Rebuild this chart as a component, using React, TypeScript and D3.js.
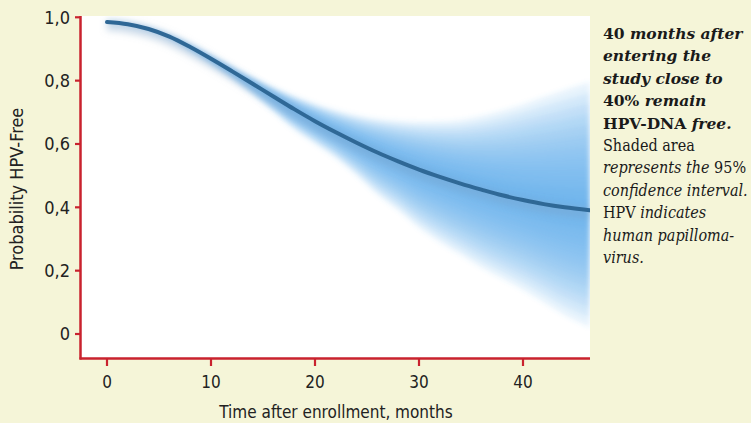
import React from "react";
import * as d3 from "d3";

const months = [0, 2, 4, 6, 8, 10, 12, 14, 16, 18, 20, 22, 24, 26, 28, 30, 32, 34, 36, 38, 40, 42, 44, 46.4];
const estimate = [0.985, 0.978, 0.963, 0.939, 0.906, 0.869, 0.83, 0.79, 0.75, 0.71, 0.672, 0.637, 0.604, 0.573, 0.545, 0.519, 0.496, 0.475, 0.456, 0.438, 0.423, 0.41, 0.4, 0.391];
const upperCI = [0.987, 0.981, 0.967, 0.945, 0.915, 0.881, 0.846, 0.812, 0.78, 0.752, 0.728, 0.707, 0.691, 0.68, 0.673, 0.67, 0.671, 0.676, 0.688, 0.705, 0.725, 0.748, 0.77, 0.795];
const lowerCI = [0.983, 0.975, 0.958, 0.932, 0.894, 0.852, 0.806, 0.755, 0.7, 0.645, 0.6, 0.555, 0.5, 0.44, 0.39, 0.335, 0.29, 0.25, 0.21, 0.175, 0.14, 0.1, 0.06, 0.022];

const xTicks = [0, 10, 20, 30, 40];
const yTicks = [0, 0.2, 0.4, 0.6, 0.8, 1.0];
const yTickLabels = ["0", "0,2", "0,4", "0,6", "0,8", "1,0"];

const xLabel = "Time after enrollment, months";
const yLabel = "Probability HPV-Free";

type Seg = { t: string; b?: boolean; i?: boolean };
const noteLines: Seg[][] = [
  [{ t: "40 ", b: true }, { t: "months after", b: true, i: true }],
  [{ t: "entering the", b: true, i: true }],
  [{ t: "study close to", b: true, i: true }],
  [{ t: "40% ", b: true }, { t: "remain", b: true, i: true }],
  [{ t: "HPV-DNA ", b: true }, { t: "free.", b: true, i: true }],
  [{ t: "Shaded area" }],
  [{ t: "represents the ", i: true }, { t: "95%" }],
  [{ t: "confidence interval.", i: true }],
  [{ t: "HPV " }, { t: "indicates", i: true }],
  [{ t: "human papilloma-", i: true }],
  [{ t: "virus.", i: true }],
];

const BG = "#f5f5d8";
const RED = "#c9222e";
const LEVELS = 12;
const SANS = "'Liberation Sans Narrow', 'DejaVu Sans Condensed', 'Open Sans', sans-serif";

export default function App() {
  const x = d3.scaleLinear().domain([0, 40]).range([107, 523]);
  const y = d3.scaleLinear().domain([0, 1]).range([334, 17.3]);
  const plotLeft = 81;
  const plotRight = 590;
  const plotTop = 16;
  const plotBottom = 358.5;

  const pts = months.map((m, i) => ({ m, c: estimate[i], u: upperCI[i], l: lowerCI[i] }));
  const curve = d3.curveCatmullRom.alpha(0.5);

  const bands = d3.range(LEVELS, 0, -1).map((k) => {
    const f = k / LEVELS;
    return d3
      .area<(typeof pts)[number]>()
      .x((d) => x(d.m))
      .y0((d) => y(d.c - (d.c - d.l) * f))
      .y1((d) => y(d.c + (d.u - d.c) * f))
      .curve(curve)(pts) as string;
  });

  const linePath = d3
    .line<(typeof pts)[number]>()
    .x((d) => x(d.m))
    .y((d) => y(d.c))
    .curve(curve)(pts) as string;

  const lineH = 22.4;
  const noteTop = 39;

  return (
    <svg
      width={751}
      height={423}
      style={{ position: "absolute", left: 0, top: 0, display: "block" }}
    >
      <defs>
        <clipPath id="plotclip">
          <rect x={plotLeft} y={plotTop} width={plotRight - plotLeft} height={plotBottom - plotTop} />
        </clipPath>
        <filter id="blurBand" x="-10%" y="-10%" width="120%" height="120%">
          <feGaussianBlur stdDeviation={2.5} />
        </filter>
        <filter id="blurGlow" x="-10%" y="-10%" width="120%" height="120%">
          <feGaussianBlur stdDeviation={3.5} />
        </filter>
      </defs>
      <rect x={0} y={0} width={751} height={423} fill={BG} />
      <rect x={plotLeft} y={plotTop} width={plotRight - plotLeft} height={plotBottom - plotTop} fill="#ffffff" />

      <g clipPath="url(#plotclip)">
        <g filter="url(#blurBand)">
          {bands.map((d, i) => (
            <path key={i} d={d} fill="#4a9fe4" fillOpacity={0.13} />
          ))}
        </g>
        <path
          d={linePath}
          fill="none"
          stroke="#7fa6c8"
          strokeOpacity={0.4}
          strokeWidth={11}
          transform="translate(0,3)"
          filter="url(#blurGlow)"
        />
        <path d={linePath} fill="none" stroke="#2f6896" strokeWidth={4} strokeLinecap="round" />
      </g>

      {/* axes */}
      <line x1={plotLeft - 0.5} x2={plotLeft - 0.5} y1={plotTop} y2={plotBottom + 1} stroke={RED} strokeWidth={2.5} />
      <line x1={plotLeft - 1.5} x2={plotRight} y1={plotBottom} y2={plotBottom} stroke={RED} strokeWidth={2.5} />
      {yTicks.map((v, i) => (
        <g key={i}>
          <line x1={75} x2={plotLeft} y1={y(v)} y2={y(v)} stroke={RED} strokeWidth={2.2} />
          <text x={70} y={y(v)} dy="0.35em" textAnchor="end" fontFamily={SANS} fontSize={18} fill="#222">
            {yTickLabels[i]}
          </text>
        </g>
      ))}
      {xTicks.map((v) => (
        <g key={v}>
          <line x1={x(v)} x2={x(v)} y1={plotBottom} y2={366} stroke={RED} strokeWidth={2.2} />
          <text x={x(v)} y={382} dy="0.35em" textAnchor="middle" fontFamily={SANS} fontSize={17} fill="#222">
            {v}
          </text>
        </g>
      ))}
      <text x={336} y={412} dy="0.35em" textAnchor="middle" fontFamily={SANS} fontSize={17} fill="#222">
        {xLabel}
      </text>
      <text
        transform={`translate(17,189) rotate(-90)`}
        dy="0.35em"
        textAnchor="middle"
        fontFamily={SANS}
        fontSize={18}
        fill="#222"
      >
        {yLabel}
      </text>

      {/* note */}
      {noteLines.map((segs, i) => (
        <text
          key={i}
          x={603}
          y={noteTop + i * lineH}
          fontFamily={i < 5 ? "'DejaVu Serif', serif" : "'DejaVu Serif Condensed', 'DejaVu Serif', serif"}
          fontSize={i < 5 ? 15.5 : 16}
          fill="#1a1a1a"
        >
          {segs.map((s, j) => (
            <tspan key={j} fontWeight={s.b ? "bold" : "normal"} fontStyle={s.i ? "italic" : "normal"}>
              {s.t}
            </tspan>
          ))}
        </text>
      ))}
    </svg>
  );
}
